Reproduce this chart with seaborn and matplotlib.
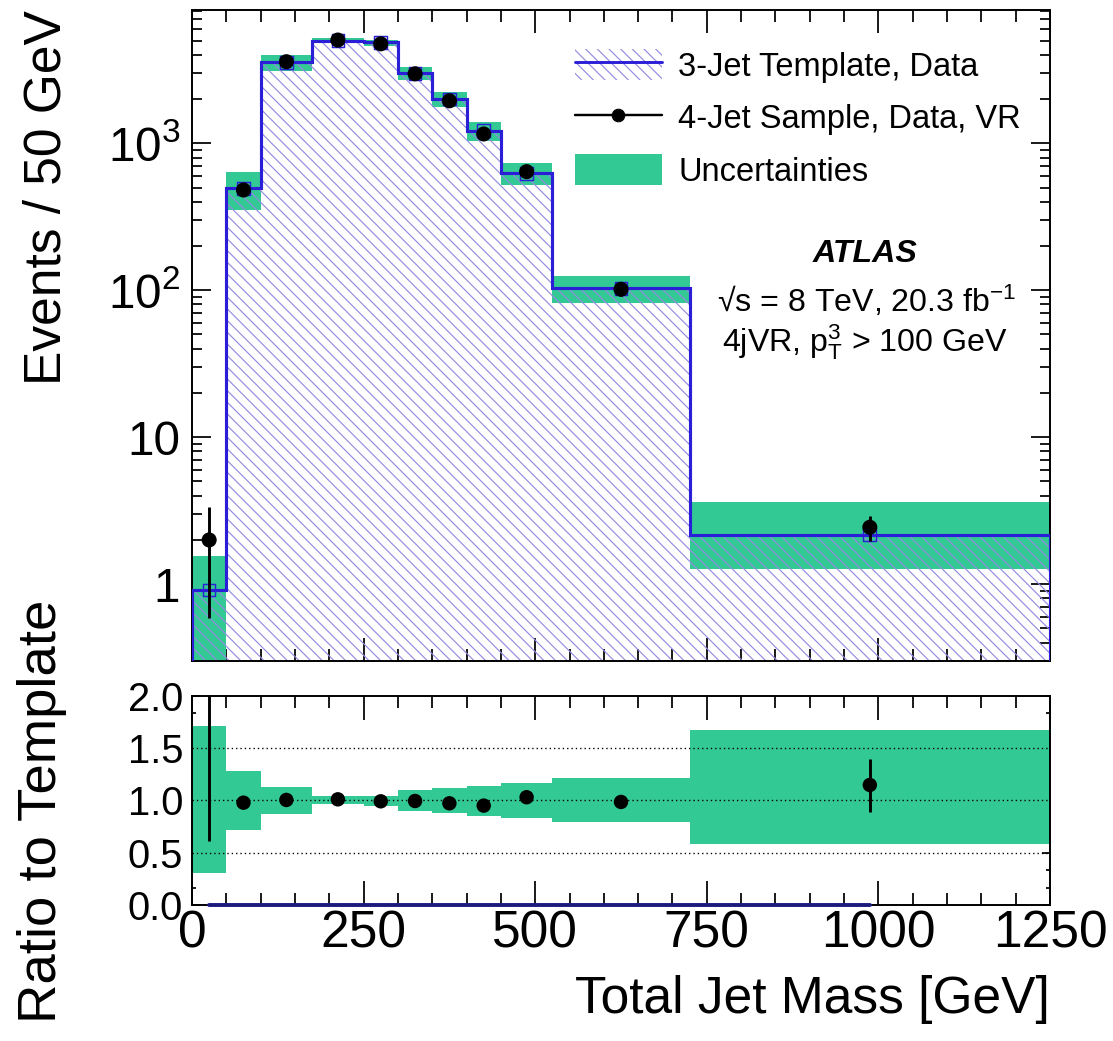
import numpy as np
import matplotlib
matplotlib.use("Agg")
import matplotlib.pyplot as plt
import seaborn as sns
from matplotlib.lines import Line2D
from matplotlib.patches import Patch
from matplotlib.legend_handler import HandlerTuple
from matplotlib.ticker import FixedLocator, FixedFormatter, MultipleLocator, LogLocator, NullFormatter, AutoMinorLocator

# binning (GeV) and values
bin_edges = [0, 50, 100, 175, 250, 300, 350, 400, 450, 525, 725, 1250]
template_3jet = [0.914, 494, 3560, 4990, 4850, 2990, 2000, 1218, 625, 103, 2.16]
data_4jet = [2.0, 481, 3590, 5040, 4750, 2970, 1945, 1157, 641, 101.5, 2.44]
data_err_lo = [1.41, 22, 60, 71, 69, 55, 44, 34, 25, 10, 0.46]
data_err_hi = [1.37, 22, 60, 71, 69, 55, 44, 34, 25, 10, 0.48]

# ratio panel
ratio = [2.19, 0.978, 1.004, 1.01, 0.991, 0.994, 0.972, 0.95, 1.03, 0.985, 1.147]
ratio_err_lo = [1.58, 0.045, 0.02, 0.015, 0.015, 0.02, 0.025, 0.03, 0.04, 0.06, 0.26]
ratio_err_hi = [1.50, 0.045, 0.02, 0.015, 0.015, 0.02, 0.025, 0.03, 0.04, 0.06, 0.25]
unc_hi = [1.714, 1.281, 1.125, 1.045, 1.040, 1.099, 1.115, 1.138, 1.169, 1.211, 1.673]
unc_lo = [0.309, 0.717, 0.867, 0.966, 0.950, 0.899, 0.877, 0.854, 0.829, 0.791, 0.583]

log_ticks = [1, 10, 100, 1000]
log_tick_labels = ["1", "10", "$10^{2}$", "$10^{3}$"]
ratio_ticks = [0.0, 0.5, 1.0, 1.5, 2.0]
ratio_lines = [0.5, 1.0, 1.5]

green = "#33c995"
blue = "#2a1ed6"
hatch_col = "#928ae0"
navy = "#1d1a7e"

sns.set_theme(style="ticks")
plt.rcParams["font.family"] = ["Liberation Sans", "DejaVu Sans"]
plt.rcParams["mathtext.fontset"] = "custom"
plt.rcParams["mathtext.rm"] = "Liberation Sans"
plt.rcParams["mathtext.it"] = "Liberation Sans:italic"
plt.rcParams["mathtext.bf"] = "Liberation Sans:bold"
plt.rcParams["hatch.linewidth"] = 1.2
plt.rcParams["axes.linewidth"] = 2.0
plt.rcParams["axes.edgecolor"] = "black"
plt.rcParams["text.color"] = "black"
plt.rcParams["axes.labelcolor"] = "black"

edges = np.array(bin_edges, dtype=float)
centers = 0.5 * (edges[:-1] + edges[1:])
tmpl = np.array(template_3jet)

DPI = 70
fig = plt.figure(figsize=(1113 / DPI, 1041 / DPI), dpi=DPI)
ax1 = fig.add_axes([0.1725, 0.365, 0.7709, 0.6254])
ax2 = fig.add_axes([0.1725, 0.1306, 0.7709, 0.2011])

# ---- top panel
ax1.set_yscale("log")
ax1.stairs(tmpl * np.array(unc_hi), edges, baseline=tmpl * np.array(unc_lo),
           fill=True, color=green, lw=0, zorder=1)
ax1.stairs(tmpl, edges, baseline=1e-3, fill=True, facecolor="none",
           edgecolor=hatch_col, hatch="\\\\", lw=0, zorder=2)
ax1.stairs(tmpl, edges, baseline=1e-3, color=blue, lw=3.2, zorder=3)
sns.scatterplot(x=centers, y=tmpl, ax=ax1, marker="s", s=170, facecolor="none",
                edgecolor=blue, linewidth=1.5, zorder=4)
ax1.errorbar(centers, data_4jet, yerr=[data_err_lo, data_err_hi], fmt="none",
             ecolor="black", elinewidth=3, capsize=0, zorder=5)
sns.scatterplot(x=centers, y=data_4jet, ax=ax1, color="black", s=240,
                edgecolor="none", zorder=6)

ax1.set_xlim(0, 1250)
ax1.set_ylim(0.30, 8070)
ax1.yaxis.set_major_locator(FixedLocator(log_ticks))
ax1.yaxis.set_major_formatter(FixedFormatter(log_tick_labels))
ax1.yaxis.set_minor_locator(LogLocator(base=10, subs=np.arange(2, 10)))
ax1.yaxis.set_minor_formatter(NullFormatter())
ax1.xaxis.set_major_locator(MultipleLocator(250))
ax1.xaxis.set_minor_locator(MultipleLocator(50))
ax1.tick_params(which="both", direction="in", top=True, right=True,
                labelbottom=False, width=1.8, colors="black")
ax1.tick_params(axis="x", which="major", length=24)
ax1.tick_params(axis="x", which="minor", length=12)
ax1.tick_params(axis="y", which="major", length=20, labelsize=49, pad=12)
ax1.tick_params(axis="y", which="minor", length=10)
ax1.set_ylabel("Events / 50 GeV", fontsize=53, loc="top")
ax1.yaxis.set_label_coords(-0.141, 1.0)

h_tmpl = (Patch(facecolor="none", edgecolor=hatch_col, hatch="\\\\", lw=0),
          Line2D([], [], color=blue, lw=3))
h_data = Line2D([], [], color="black", lw=2.5, marker="o", ms=13)
h_unc = Patch(facecolor=green, edgecolor="none")
ax1.legend([h_tmpl, h_data, h_unc],
           ["3-Jet Template, Data", "4-Jet Sample, Data, VR", "Uncertainties"],
           handler_map={tuple: HandlerTuple(ndivide=1, pad=0)},
           loc="upper left", bbox_to_anchor=(0.4464, 0.9404), frameon=False,
           fontsize=33.5, handlelength=2.67, handleheight=1.1, handletextpad=0.5,
           labelspacing=0.58, borderpad=0, borderaxespad=0)

ax1.text(0.784, 0.613, "ATLAS", transform=ax1.transAxes, ha="center",
         va="baseline", fontsize=33, fontweight="bold", fontstyle="italic")
ax1.text(0.786, 0.536, "\u221as = 8 TeV, 20.3 fb$^{-1}$", transform=ax1.transAxes,
         ha="center", va="baseline", fontsize=33)
ax1.text(0.784, 0.4747, r"4jVR, $\mathrm{p}_{\mathrm{T}}^{\mathrm{3}}$ > 100 GeV",
         transform=ax1.transAxes, ha="center", va="baseline", fontsize=33)

# ---- ratio panel
ax2.stairs(unc_hi, edges, baseline=unc_lo, fill=True, color=green, lw=0, zorder=1)
for yv in ratio_lines:
    ax2.axhline(yv, color="black", ls=(0, (1, 2.2)), lw=1.4, zorder=2)
ax2.plot(centers[[0, -1]], [0, 0], color=navy, lw=4, zorder=3, clip_on=False)
ax2.errorbar(centers, ratio, yerr=[ratio_err_lo, ratio_err_hi], fmt="none",
             ecolor="black", elinewidth=3, capsize=0, zorder=4)
sns.scatterplot(x=centers, y=ratio, ax=ax2, color="black", s=220, edgecolor="none",
                zorder=5)

ax2.set_xlim(0, 1250)
ax2.set_ylim(0, 2)
ax2.yaxis.set_major_locator(FixedLocator(ratio_ticks))
ax2.yaxis.set_major_formatter(FixedFormatter([f"{t:.1f}" for t in ratio_ticks]))
ax2.yaxis.set_minor_locator(AutoMinorLocator(3))
ax2.xaxis.set_major_locator(MultipleLocator(250))
ax2.xaxis.set_minor_locator(MultipleLocator(50))
ax2.tick_params(which="both", direction="in", top=True, right=True, width=1.8,
                colors="black")
ax2.tick_params(axis="x", which="major", length=25, labelsize=53, pad=5)
ax2.tick_params(axis="x", which="minor", length=12)
ax2.tick_params(axis="y", which="major", length=8, labelsize=41, pad=9)
ax2.tick_params(axis="y", which="minor", length=4)
ax2.set_xlabel("Total Jet Mass [GeV]", fontsize=53, loc="right")
ax2.xaxis.set_label_coords(1.0, -0.334)
ax2.set_ylabel("Ratio to Template", fontsize=56, loc="top")
ax2.yaxis.set_label_coords(-0.146, 1.457)

fig.savefig("out.png", dpi=DPI)
